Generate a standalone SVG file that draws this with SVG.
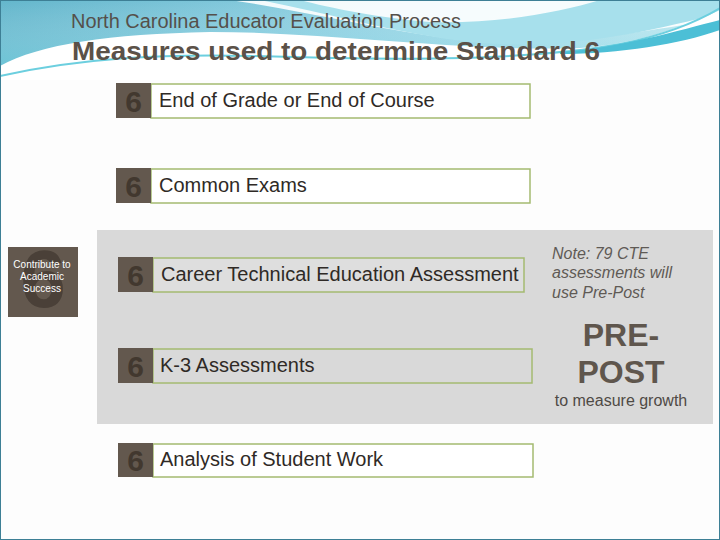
<svg xmlns="http://www.w3.org/2000/svg" width="720" height="540" viewBox="0 0 720 540">
<defs>
<linearGradient id="hdr" x1="0" y1="0" x2="1" y2="0">
<stop offset="0" stop-color="#63b6cc"/>
<stop offset="0.5" stop-color="#8fd0e2"/>
<stop offset="1" stop-color="#bfe8f0"/>
</linearGradient>
<linearGradient id="hdr2" x1="0" y1="0" x2="0" y2="1">
<stop offset="0" stop-color="#ffffff" stop-opacity="0"/>
<stop offset="1" stop-color="#5fd0e0" stop-opacity="0.5"/>
</linearGradient>
<style>
.t{font-family:"Liberation Sans",Arial,sans-serif}
.num{font-family:"Liberation Sans",Arial,sans-serif;font-weight:bold;font-size:30px;fill:#42382f;text-anchor:middle}
.brown{fill:#63584e}
.lbl{font-family:"Liberation Sans",Arial,sans-serif;font-size:20px;fill:#2f2a26}
.bx{stroke:#a4ba70;stroke-width:1.5}
</style>
</defs>
<rect width="720" height="540" fill="#fdfdfd"/>
<g id="header-bg">
<rect x="0" y="0" width="720" height="80" fill="url(#hdr)"/>
<rect x="0" y="0" width="720" height="80" fill="url(#hdr2)"/>
<path d="M230,0 C300,10 380,30 460,40 C560,50 640,30 720,20 L720,0 Z" fill="#ffffff" opacity="0.9"/>
<path d="M260,0 C330,14 400,34 470,42 C570,52 650,30 720,14 L720,0 L600,0 C560,12 500,24 430,22 C380,18 330,8 300,0 Z" fill="#a7e0ec"/>
<path d="M0,80 L0,66 C40,44 110,34 210,32 C330,32 460,52 580,48 C640,44 690,24 720,10 L720,80 Z" fill="#ffffff"/>
<path d="M0,76 C80,58 160,54 250,56 C380,60 520,62 620,44 C670,34 700,20 720,8" fill="none" stroke="#6ccfdf" stroke-width="2"/>
<path d="M560,52 C620,48 680,30 720,20 L720,30 C680,44 620,54 560,54 Z" fill="#4cbfd6"/>
<rect x="0.5" y="0.5" width="719" height="539" fill="none" stroke="#3d7f95" stroke-width="1"/>
</g>
<g id="title">
<text class="t" x="71" y="28" font-size="20" fill="#55504b" textLength="390" lengthAdjust="spacingAndGlyphs">North Carolina Educator Evaluation Process</text>
<text class="t" x="72" y="60" font-size="25" font-weight="bold" fill="#5b5148" textLength="528" lengthAdjust="spacingAndGlyphs">Measures used to determine Standard 6</text>
</g>
<rect id="panel" x="97" y="230" width="616" height="194" fill="#d9d9d9"/>
<g id="contribute">
<rect x="8" y="247" width="70" height="70" class="brown"/>
<text class="t" x="43" y="307" font-size="82" font-weight="bold" fill="#4a4038" text-anchor="middle">6</text>
<text class="t" font-size="10" fill="#ffffff" text-anchor="middle"><tspan x="42" y="268">Contribute to</tspan><tspan x="42" y="280">Academic</tspan><tspan x="42" y="292">Success</tspan></text>
</g>
<g id="row1">
<rect x="151" y="84" width="379" height="34" fill="#ffffff" class="bx"/>
<rect x="116" y="83" width="35" height="35" class="brown"/>
<text class="num" x="133.5" y="112">6</text>
<text class="lbl" x="159" y="107">End of Grade or End of Course</text>
</g>
<g id="row2">
<rect x="151" y="169" width="379" height="34" fill="#ffffff" class="bx"/>
<rect x="116" y="168" width="35" height="35" class="brown"/>
<text class="num" x="133.5" y="197">6</text>
<text class="lbl" x="159" y="192">Common Exams</text>
</g>
<g id="row3">
<rect x="153" y="258" width="371" height="34" fill="#dedede" class="bx"/>
<rect x="118" y="257" width="35" height="35" class="brown"/>
<text class="num" x="135.5" y="286">6</text>
<text class="lbl" x="161" y="281">Career Technical Education Assessment</text>
</g>
<g id="row4">
<rect x="153" y="349" width="379" height="34" fill="#d9d9d9" class="bx"/>
<rect x="118" y="348" width="35" height="35" class="brown"/>
<text class="num" x="135.5" y="377">6</text>
<text class="lbl" x="160" y="372">K-3 Assessments</text>
</g>
<g id="row5">
<rect x="153" y="444" width="380" height="33" fill="#ffffff" class="bx"/>
<rect x="118" y="443" width="35" height="34" class="brown"/>
<text class="num" x="135.5" y="471">6</text>
<text class="lbl" x="160" y="466">Analysis of Student Work</text>
</g>
<g id="note">
<text class="t" font-size="16" font-style="italic" fill="#5f5a55"><tspan x="552" y="259">Note: 79 CTE</tspan><tspan x="552" y="278">assessments will</tspan><tspan x="552" y="298">use Pre-Post</tspan></text>
<text class="t" font-size="32" font-weight="bold" fill="#5f564d" text-anchor="middle"><tspan x="621" y="346">PRE-</tspan><tspan x="621" y="383">POST</tspan></text>
<text class="t" font-size="16" fill="#4f4a45" text-anchor="middle" x="621" y="406">to measure growth</text>
</g>
</svg>
